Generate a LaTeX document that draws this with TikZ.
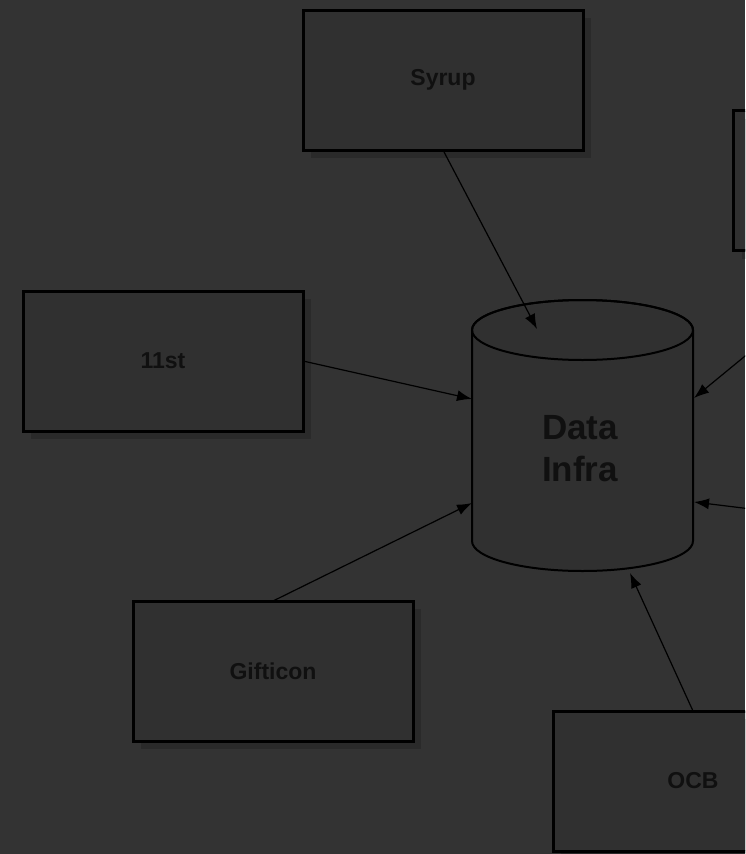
\documentclass[tikz,border=0pt]{standalone}
\usepackage{fontspec}
\setmainfont{Liberation Sans}
\usetikzlibrary{shadows,arrows.meta}
\definecolor{bgcol}{HTML}{333333}
\definecolor{boxcol}{HTML}{303030}
\definecolor{shcol}{HTML}{2A2A2A}
\definecolor{txtcol}{HTML}{101010}
\begin{document}
\begin{tikzpicture}[x=1pt,y=1pt,
  srcbox/.style={draw=black, line width=3pt, fill=boxcol, minimum width=280pt, minimum height=140pt,
    inner sep=0pt, outer sep=0pt, text=txtcol, font=\bfseries\fontsize{23}{28}\selectfont,
    drop shadow={shadow xshift=8pt, shadow yshift=-8pt, fill=shcol, opacity=1}},
  link/.style={draw=black, line width=1.2pt, -{Latex[length=15pt,width=11pt]}},
  cyl/.style={draw=black, line width=2pt, fill=boxcol}]
\useasboundingbox (0,0) rectangle (745,-854);
\clip (0,0) rectangle (745,-854);
\fill[bgcol] (0,0) rectangle (745,-854);

% source boxes
\node[srcbox] (syrup) at (443,-80) {Syrup};
\node[srcbox] (e11) at (163,-361) {11st};
\node[srcbox] (gift) at (273,-671) {Gifticon};
\node[srcbox] (ocb) at (693,-781) {OCB};
\node[srcbox] (rt) at (873.5,-180.5) {};

% cylinder
\node[minimum width=221pt, minimum height=271pt, inner sep=0pt] (di) at (582.5,-435.5) {};
\path[cyl] (472,-330) -- (472,-541) arc[start angle=180, end angle=360, x radius=110.5pt, y radius=30pt] -- (693,-330) arc[start angle=0, end angle=180, x radius=110.5pt, y radius=30pt] -- cycle;
\draw[black, line width=2pt] (582.5,-330) ellipse (110.5pt and 30pt);
\node[font=\bfseries\fontsize{35}{42}\selectfont, align=center, text=txtcol] (dil) at (580,-449) {Data\\Infra};

% arrow tips
\coordinate (t1) at (537,-329);
\coordinate (t2) at (472,-399);
\coordinate (t3) at (472,-503);
\coordinate (t4) at (630,-573);
\coordinate (t5) at (694,-398);
\coordinate (t6) at (694,-502);
\coordinate (src6) at (800,-515);

\draw[link] (syrup.south) -- (t1);
\draw[link] (e11.east) -- (t2);
\draw[link] (gift.north) -- (t3);
\draw[link] (ocb.north) -- (t4);
\draw[link] (rt.south) -- (t5);
\draw[link] (src6) -- (t6);
\end{tikzpicture}
\end{document}
